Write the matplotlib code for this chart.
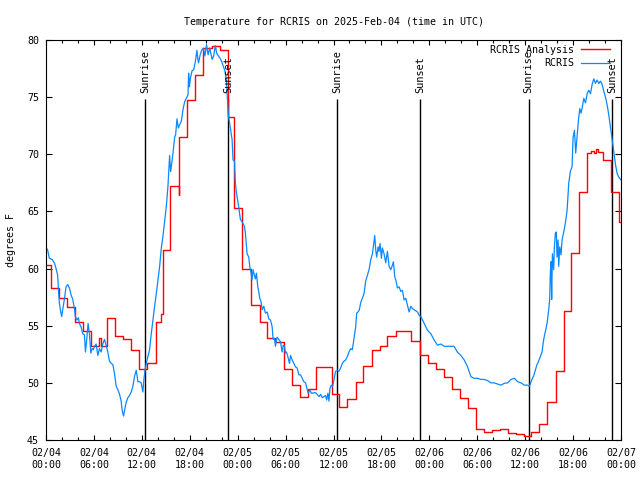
import matplotlib
matplotlib.use("Agg")
import matplotlib.pyplot as plt
from matplotlib.ticker import MultipleLocator

plt.rcParams['font.family'] = ['DejaVu Sans Mono']
plt.rcParams['font.size'] = 7.2

# hours since 2025-02-04 00:00 UTC
analysis_hours = [0.0, 0.63, 1.65, 2.65, 3.65, 4.6, 5.65, 6.65, 6.85, 7.65, 8.65, 9.65,
                  10.65, 11.65, 12.65, 13.75, 14.43, 14.6, 15.55, 16.6, 16.7, 17.65, 18.7,
                  19.7, 20.8, 21.75, 22.75, 23.6, 24.6, 25.65, 26.75, 27.65, 28.7, 29.75,
                  30.75, 31.75, 32.8, 33.8, 35.75, 36.75, 37.75, 38.8, 39.75, 40.8, 41.8,
                  42.75, 43.8, 45.75, 46.8, 47.8, 48.8, 49.85, 50.85, 51.85, 52.85, 53.85,
                  54.85, 55.8, 56.8, 57.85, 58.85, 59.85, 60.7, 61.75, 62.75, 63.8, 64.8,
                  65.8, 66.8, 67.8, 68.3, 68.6, 68.9, 69.1, 69.8, 70.8, 71.75, 72.1]
analysis_temps = [60.3, 58.3, 57.4, 56.6, 55.3, 54.5, 53.2, 53.9, 53.2, 55.7, 54.1, 53.8,
                  52.9, 51.2, 51.7, 55.3, 56.0, 61.6, 67.2, 66.4, 71.5, 74.75, 76.9,
                  79.3, 79.5, 79.1, 73.3, 65.3, 60.0, 56.8, 55.3, 53.9, 53.6, 51.2,
                  49.8, 48.8, 49.5, 51.4, 49.0, 47.9, 48.6, 50.1, 51.5, 52.9, 53.2,
                  54.1, 54.5, 53.7, 52.4, 51.7, 51.2, 50.5, 49.5, 48.7, 47.8, 46.0,
                  45.7, 45.9, 45.95, 45.65, 45.5, 45.35, 45.7, 46.4, 48.3, 51.0, 56.3,
                  61.4, 66.7, 70.1, 70.3, 70.1, 70.5, 70.2, 69.5, 66.7, 64.1, 64.1]

obs_hours = [0.00, 0.21, 0.42, 0.75, 1.05, 1.26, 1.46, 1.59, 1.67, 1.84, 1.97, 2.09, 2.30,
             2.51, 2.72, 2.93, 3.14, 3.35, 3.56, 3.68, 3.85, 4.06, 4.18, 4.39, 4.60, 4.81,
             4.94, 5.10, 5.27, 5.44, 5.61, 5.77, 5.94, 6.07, 6.28, 6.49, 6.69, 6.90, 7.11,
             7.32, 7.53, 7.74, 7.95, 8.16, 8.37, 8.58, 8.79, 9.00, 9.21, 9.41, 9.54, 9.71,
             9.92, 10.04, 10.25, 10.46, 10.67, 10.88, 11.09, 11.30, 11.51, 11.72, 11.92,
             12.13, 12.26, 12.38, 12.55, 12.76, 12.97, 13.18, 13.39, 13.60, 13.81, 14.02,
             14.23, 14.44, 14.64, 14.85, 15.06, 15.27, 15.48, 15.60, 15.69, 15.90, 16.11,
             16.23, 16.40, 16.57, 16.74, 16.95, 17.15, 17.36, 17.57, 17.78, 17.86, 17.95,
             18.07, 18.28, 18.49, 18.70, 18.90, 19.00, 19.10, 19.30, 19.50, 19.70, 19.90,
             20.10, 20.30, 20.50, 20.80, 21.00, 21.20, 21.40, 21.60, 21.80, 22.00, 22.20,
             22.40, 22.60, 22.70, 22.85, 23.00, 23.30, 23.42, 23.60, 23.71, 23.80, 23.92,
             24.13, 24.34, 24.55, 24.84, 24.97, 25.18, 25.39, 25.51, 25.68, 25.80, 25.93,
             26.10, 26.22, 26.35, 26.52, 26.64, 26.77, 26.93, 27.06, 27.27, 27.48, 27.69,
             27.90, 28.11, 28.32, 28.44, 28.61, 28.73, 28.94, 29.15, 29.36, 29.57, 29.70,
             29.86, 29.99, 30.11, 30.28, 30.49, 30.62, 30.83, 31.04, 31.24, 31.45, 31.66,
             31.87, 32.08, 32.29, 32.50, 32.71, 32.83, 33.04, 33.21, 33.46, 33.63, 33.84,
             34.05, 34.21, 34.38, 34.59, 34.80, 35.01, 35.14, 35.30, 35.43, 35.55, 35.72,
             35.89, 36.06, 36.26, 36.47, 36.68, 36.89, 37.10, 37.31, 37.52, 37.73, 37.94,
             38.15, 38.36, 38.57, 38.78, 38.90, 39.07, 39.24, 39.40, 39.61, 39.82, 40.03,
             40.24, 40.45, 40.66, 40.87, 40.99, 41.16, 41.29, 41.41, 41.58, 41.70, 41.83,
             42.00, 42.12, 42.33, 42.54, 42.75, 42.96, 43.17, 43.38, 43.50, 43.67, 43.80,
             44.01, 44.22, 44.42, 44.63, 44.84, 45.05, 45.26, 45.47, 45.68, 45.89, 46.10,
             46.52, 46.73, 46.94, 47.35, 47.77, 48.19, 48.60, 49.02, 49.44, 49.86, 50.70,
             51.10, 51.50, 51.95, 52.37, 52.79, 53.20, 53.60, 54.04, 54.46, 54.88, 55.30,
             55.70, 56.10, 56.55, 56.97, 57.39, 57.81, 58.23, 58.65, 59.06, 59.48, 59.90,
             60.32, 60.53, 60.85, 61.06, 61.27, 61.48, 61.69, 61.90, 62.11, 62.32, 62.53,
             62.74, 62.95, 63.07, 63.15, 63.24, 63.32, 63.41, 63.57, 63.66, 63.78, 63.90,
             63.99, 64.12, 64.20, 64.33, 64.49, 64.62, 64.83, 65.04, 65.25, 65.46, 65.66,
             65.87, 66.00, 66.17, 66.33, 66.50, 66.67, 66.84, 67.00, 67.17, 67.34, 67.55,
             67.76, 67.97, 68.18, 68.38, 68.59, 68.80, 69.01, 69.22, 69.43, 69.64, 69.85,
             70.06, 70.27, 70.48, 70.68, 70.89, 71.10, 71.31, 71.52, 71.73, 71.94, 72.10]
obs_temps = [61.9, 61.6, 60.9, 60.8, 60.5, 60.0, 59.4, 57.8, 57.0, 56.2, 55.8, 56.4, 57.3,
             58.4, 58.6, 58.3, 57.7, 57.3, 56.5, 55.8, 55.5, 55.7, 55.2, 54.9, 54.3, 54.2,
             52.7, 53.8, 55.2, 54.3, 52.6, 53.0, 52.9, 53.2, 53.4, 52.4, 53.0, 52.7, 53.4,
             53.8, 53.3, 52.7, 51.9, 51.7, 51.6, 50.8, 49.7, 49.4, 49.0, 48.4, 47.6, 47.1,
             47.9, 48.3, 48.7, 48.9, 49.2, 49.7, 50.6, 51.1, 50.1, 50.1, 50.0,
             49.2, 50.3, 51.0, 51.7, 52.3, 52.9, 54.3, 55.5, 56.7, 57.8, 59.0,
             60.2, 61.8, 62.8, 64.1, 65.4, 67.2, 69.9, 68.5, 68.9, 70.1, 71.5,
             71.7, 73.1, 72.3, 72.6, 72.9, 73.9, 74.6, 74.9, 75.2, 77.1, 75.9,
             76.6, 77.3, 77.4, 78.1, 79.1, 78.4, 78.0, 78.7, 79.1, 79.3, 78.6,
             79.6, 78.7, 79.3, 78.3, 78.6, 79.5, 78.8, 78.6, 78.4, 78.1, 77.7,
             77.3, 76.4, 75.0, 73.3, 72.7, 71.3, 69.5, 69.4, 67.5, 66.9, 66.3,
             65.4, 64.3, 64.1, 63.7, 63.1, 61.3, 61.0, 60.2, 59.6, 59.0, 59.9,
             59.4, 59.1, 59.6, 58.4, 58.0, 57.4, 57.1, 56.4, 56.7, 56.1, 56.2,
             55.6, 55.5, 54.9, 53.8, 53.9, 53.2, 54.0, 53.8, 53.6, 52.7, 53.3,
             53.2, 52.6, 52.7, 52.3, 51.7, 52.4, 52.0, 51.7, 51.4, 51.3, 50.7,
             50.7, 50.4, 50.1, 50.0, 49.4, 49.1, 49.4, 49.1, 49.1, 49.15, 49.1,
             48.9, 48.8, 49.0, 48.7, 48.8, 48.9, 48.5, 49.1, 48.4, 49.5, 49.8,
             49.7, 50.3, 51.0, 51.1, 51.0, 51.3, 51.7, 51.9, 52.0, 52.3, 52.7,
             53.0, 52.9, 53.9, 54.9, 56.1, 56.2, 56.4, 57.0, 57.4, 57.8, 58.9,
             59.4, 59.9, 60.75, 61.3, 61.9, 62.9, 61.6, 61.0, 61.9, 61.5, 62.2,
             60.9, 61.8, 61.3, 60.5, 61.5, 60.2, 59.9, 60.3, 60.6, 59.3, 59.0,
             58.3, 58.4, 58.0, 58.1, 57.25, 57.4, 56.8, 56.2, 56.7, 56.5, 56.4,
             56.2, 55.9, 55.8, 55.2, 54.6, 54.3, 53.75, 53.3, 53.4, 53.2, 53.2,
             53.2, 52.7, 52.4, 52.0, 51.4, 50.55, 50.4, 50.4, 50.3, 50.3, 50.2,
             50.0, 50.0, 49.9, 49.8, 49.96, 50.0, 50.3, 50.4, 50.1, 50.0, 49.8,
             49.8, 49.7, 50.3, 50.6, 51.1, 51.6, 51.9, 52.3, 52.7, 53.8, 54.5,
             55.2, 56.4, 57.3, 59.6, 60.6, 57.3, 61.3, 59.9, 61.9, 63.1, 63.2,
             61.0, 62.5, 60.2, 61.9, 61.2, 62.5, 63.2, 64.0, 65.1, 67.5, 68.5,
             68.9, 71.5, 72.1, 70.1, 71.5, 73.0, 74.0, 73.6, 74.2, 74.9, 74.5,
             75.3, 75.6, 75.3, 76.1, 76.6, 76.2, 76.5, 76.2, 76.4, 76.1, 75.5,
             75.0, 74.3, 73.4, 72.4, 71.3, 70.2, 69.1, 68.3, 68.0, 67.8, 67.7]

sunrise_hours = [12.43, 36.45, 60.42]
sunset_hours = [22.83, 46.85, 70.9]

tick_hours = list(range(0, 73, 6))
tick_labels = ['02/04\n00:00', '02/04\n06:00', '02/04\n12:00', '02/04\n18:00',
               '02/05\n00:00', '02/05\n06:00', '02/05\n12:00', '02/05\n18:00',
               '02/06\n00:00', '02/06\n06:00', '02/06\n12:00', '02/06\n18:00',
               '02/07\n00:00']

fig = plt.figure(figsize=(6.4, 4.8), dpi=100)
ax = fig.add_axes([46 / 640, 40 / 480, 575 / 640, 400 / 480])

# sunrise / sunset markers
for h in sunrise_hours:
    ax.vlines(h, 45, 74.85, color='black', lw=1.0)
    ax.text(h, 75.4, 'Sunrise', rotation=90, ha='center', va='bottom', fontsize=7.4)
for h in sunset_hours:
    ax.vlines(h, 45, 74.85, color='black', lw=1.0)
    ax.text(h, 75.4, 'Sunset', rotation=90, ha='center', va='bottom', fontsize=7.4)

ax.step(analysis_hours, analysis_temps, where='post', color='#ff0000', lw=1.0,
        label='RCRIS Analysis')
ax.plot(obs_hours, obs_temps, color='#0a88ff', lw=0.9, label='RCRIS')

ax.set_xlim(0, 72)
ax.set_ylim(45, 80)
ax.set_xticks(tick_hours)
ax.set_xticklabels(tick_labels)
ax.xaxis.set_minor_locator(MultipleLocator(2))
ax.set_yticks(range(45, 81, 5))
ax.tick_params(which='both', direction='in', top=True, right=True, width=0.8)
ax.tick_params(axis='x', which='major', length=3.5, pad=6)
ax.tick_params(axis='x', which='minor', length=2)
ax.tick_params(axis='y', which='major', length=4, pad=5)
for s in ax.spines.values():
    s.set_linewidth(0.8)

ax.set_title('Temperature for RCRIS on 2025-Feb-04 (time in UTC)', fontsize=7.2, pad=11)
ax.set_ylabel('degrees F', fontsize=7.2, labelpad=8)

ax.legend(loc='upper right', bbox_to_anchor=(0.981, 0.988), frameon=False,
          markerfirst=False, handlelength=2.9, handletextpad=0.7, labelspacing=0.35,
          borderpad=0, borderaxespad=0, fontsize=7.2)

fig.savefig('out.png', dpi=100)
